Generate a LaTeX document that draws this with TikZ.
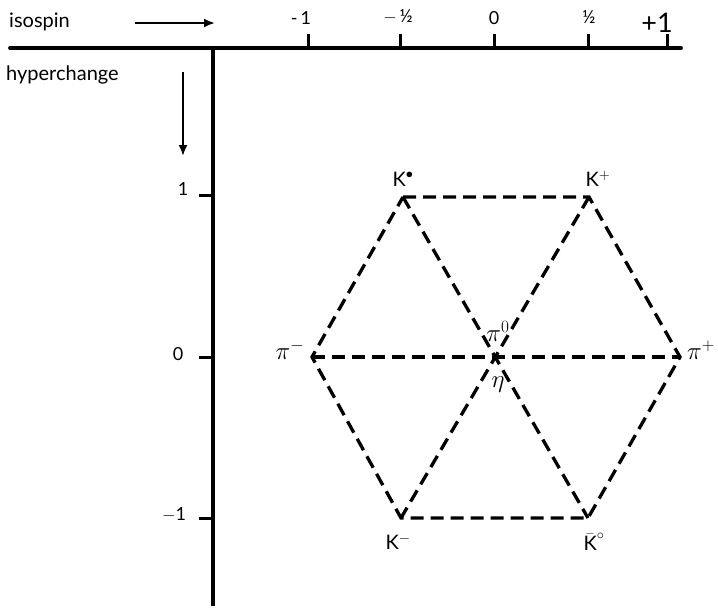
\documentclass[tikz,border=0pt]{standalone}
\usepackage{fontspec}
\setmainfont{Lato}
\usetikzlibrary{arrows.meta}
\begin{document}
\begin{tikzpicture}[x=1pt,y=-1pt,
  axis/.style={line width=3.8pt},
  tick/.style={line width=3pt},
  hexline/.style={line width=3.3pt,dash pattern=on 13pt off 7pt},
  lbl/.style={font=\fontsize{18}{20}\selectfont,inner sep=1pt},
  ttl/.style={font=\fontsize{20}{22}\selectfont,inner sep=0pt,anchor=west},
  plbl/.style={font=\fontsize{20}{22}\selectfont,inner sep=1pt},
  pilbl/.style={font=\fontsize{25}{27}\selectfont,inner sep=1pt},
  arr/.style={line width=2pt,-{Latex[length=11pt,width=9pt]}}]
\useasboundingbox (0,0) rectangle (718,611);
% axes
\coordinate (hl) at (10,48);
\coordinate (hr) at (681,48);
\coordinate (vt) at (213,48);
\coordinate (vb) at (213,606);
\draw[axis,line cap=round] (hl) -- (hr);
\draw[axis] (vt) -- (vb);
% isospin ticks
\foreach \x/\n in {308/a,400/b,494/c,588/d,667/e}{
  \coordinate (t\n) at (\x,48);
  \coordinate (u\n) at (\x,34);
  \draw[tick] (t\n) -- (u\n);
}
\node[lbl] (l1) at (301,18) {-\,1};
\node[lbl] (l2) at (398,17) {$-$\,½};
\node[lbl] (l3) at (494,18) {0};
\node[lbl] (l4) at (589,17) {½};
\node[lbl,font=\fontsize{27}{29}\selectfont] (l5) at (657,23) {+1};
% hyperchange ticks
\foreach \y/\n in {195/a,357/b,518/c}{
  \coordinate (s\n) at (213,\y);
  \coordinate (r\n) at (199,\y);
  \draw[tick] (s\n) -- (r\n);
}
\node[lbl] (m1) at (183,189) {1};
\node[lbl] (m2) at (178,354) {0};
\node[lbl] (m3) at (174,515) {$-$1};
% titles
\node[ttl] (iso) at (9,22) {isospin};
\coordinate (ia) at (135,23);
\coordinate (ib) at (215,23);
\draw[arr] (ia) -- (ib);
\node[ttl] (hyp) at (6,75) {hyperchange};
\coordinate (ha) at (183,72);
\coordinate (hb) at (183,156);
\draw[arr] (ha) -- (hb);
% hexagon vertices
\coordinate (K0) at (403,197);
\coordinate (Kp) at (589,197);
\coordinate (pip) at (680,357);
\coordinate (Kb) at (588,518);
\coordinate (Km) at (401,518);
\coordinate (pim) at (312,357);
\draw[hexline] (K0) -- (Kp) -- (pip) -- (Kb) -- (Km) -- (pim) -- cycle;
\draw[hexline] (pim) -- (pip);
\draw[hexline] (K0) -- (Kb);
\draw[hexline] (Kp) -- (Km);
% particle labels
\node[plbl] (nK0) at (403,179) {K$^{\bullet}$};
\node[plbl] (nKp) at (598,179) {K$^{+}$};
\node[pilbl] (npim) at (290,350) {$\pi^{-}$};
\node[pilbl] (npip) at (701,350) {$\pi^{+}$};
\node[pilbl] (npi0) at (498,331) {$\pi^{0}$};
\node[pilbl] (neta) at (498,385) {$\eta$};
\node[plbl] (nKm) at (398,542) {K$^{-}$};
\node[plbl] (nKb) at (594,542) {$\bar{\textrm{K}}^{\circ}$};
\end{tikzpicture}
\end{document}
